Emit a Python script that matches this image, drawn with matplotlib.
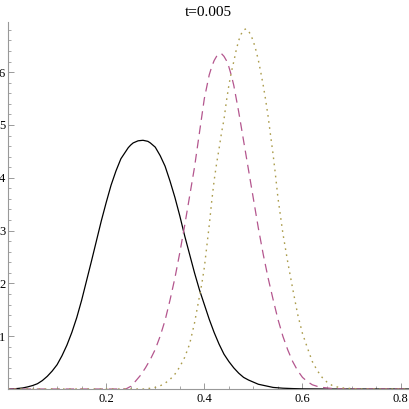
import numpy as np
import matplotlib.pyplot as plt
from matplotlib.ticker import MultipleLocator

# values
x_solid = [0.0, 0.01, 0.02, 0.03, 0.04, 0.05, 0.06, 0.07, 0.08, 0.09, 0.10,
           0.11, 0.12, 0.13, 0.14, 0.15, 0.16, 0.17, 0.18, 0.19, 0.20, 0.21,
           0.22, 0.23, 0.24, 0.245, 0.25, 0.255, 0.26, 0.265, 0.275, 0.285,
           0.29, 0.30, 0.31, 0.32, 0.33, 0.34, 0.35, 0.36, 0.37, 0.38, 0.39,
           0.40, 0.41, 0.42, 0.43, 0.44, 0.45, 0.46, 0.47, 0.48, 0.49, 0.50,
           0.51, 0.52, 0.54, 0.56, 0.58, 0.60, 0.65, 0.82]
y_solid = [0.0, 0.003, 0.01, 0.02, 0.04, 0.065, 0.10, 0.16, 0.24, 0.34, 0.46,
           0.63, 0.83, 1.07, 1.35, 1.68, 2.05, 2.42, 2.80, 3.18, 3.53, 3.86,
           4.13, 4.36, 4.50, 4.57, 4.62, 4.66, 4.68, 4.70, 4.71, 4.69,
           4.66, 4.58, 4.42, 4.22, 3.94, 3.63, 3.28, 2.90, 2.55, 2.20, 1.88,
           1.60, 1.32, 1.07, 0.85, 0.66, 0.52, 0.40, 0.30, 0.22, 0.17, 0.13,
           0.09, 0.07, 0.03, 0.015, 0.008, 0.003, 0.0, 0.0]

x_dash = [0.0, 0.24, 0.25, 0.26, 0.27, 0.28, 0.29, 0.30, 0.31, 0.32, 0.33,
          0.34, 0.35, 0.36, 0.37, 0.38, 0.39, 0.40, 0.41, 0.415, 0.42, 0.425,
          0.43, 0.435, 0.44, 0.445, 0.45, 0.455, 0.46, 0.465, 0.47, 0.48,
          0.49, 0.50, 0.51, 0.52, 0.53, 0.54, 0.55, 0.56, 0.57, 0.58, 0.59,
          0.60, 0.61, 0.62, 0.63, 0.64, 0.66, 0.68, 0.82]
y_dash = [0.0, 0.0, 0.05, 0.15, 0.26, 0.40, 0.56, 0.75, 1.00, 1.30, 1.68,
          2.10, 2.58, 3.10, 3.65, 4.20, 4.85, 5.50, 5.95, 6.10, 6.22, 6.30,
          6.35, 6.35, 6.30, 6.22, 6.10, 5.94, 5.75, 5.50, 5.25, 4.70,
          4.15, 3.60, 3.05, 2.55, 2.10, 1.70, 1.32, 1.00, 0.74, 0.52, 0.35,
          0.22, 0.14, 0.08, 0.05, 0.03, 0.01, 0.0, 0.0]

x_dot = [0.0, 0.28, 0.30, 0.31, 0.32, 0.33, 0.34, 0.35, 0.36, 0.37, 0.38,
         0.39, 0.395, 0.40, 0.405, 0.41, 0.415, 0.42, 0.425, 0.43, 0.435,
         0.44, 0.445, 0.45, 0.455, 0.46, 0.465, 0.47, 0.475, 0.48, 0.485,
         0.49, 0.495, 0.50, 0.505, 0.51, 0.515, 0.52, 0.525, 0.53, 0.535,
         0.54, 0.545, 0.55, 0.56, 0.57, 0.58, 0.59, 0.60, 0.61, 0.62, 0.63,
         0.64, 0.65, 0.66, 0.67, 0.68, 0.72, 0.82]
y_dot = [0.0, 0.0, 0.03, 0.06, 0.11, 0.18, 0.28, 0.42, 0.60, 0.85, 1.25,
         1.75, 2.00, 2.30, 2.70, 3.10, 3.55, 3.95, 4.27, 4.55, 4.85,
         5.10, 5.45, 5.75, 6.00, 6.20, 6.42, 6.60, 6.72, 6.80, 6.82,
         6.78, 6.70, 6.58, 6.42, 6.23, 6.00, 5.75, 5.47, 5.16, 4.80,
         4.45, 4.05, 3.62, 2.95, 2.40, 1.90, 1.42, 1.05, 0.78, 0.52, 0.35,
         0.22, 0.13, 0.07, 0.04, 0.02, 0.0, 0.0]

plt.rcParams['font.family'] = ['Liberation Serif', 'DejaVu Serif']

fig = plt.figure(figsize=(4.09, 4.09), dpi=100)
ax = fig.add_axes([8 / 409, 20 / 409, 401 / 409, 367 / 409])

ax.plot(x_solid, y_solid, color='black', lw=0.9)
ax.plot(x_dash, y_dash, color='#b4568e', lw=0.9, dashes=(7, 4.5))
ax.plot(x_dot, y_dot, color='#ab9c4c', lw=1.0, dashes=(1.2, 3.2))

ax.set_xlim(0, 0.817)
ax.set_ylim(0, 6.95)

for s in ['top', 'right']:
    ax.spines[s].set_visible(False)
for s in ['left', 'bottom']:
    ax.spines[s].set_color('#999999')
    ax.spines[s].set_linewidth(0.8)

ax.xaxis.set_minor_locator(MultipleLocator(0.05))
ax.yaxis.set_minor_locator(MultipleLocator(0.2))
ax.set_xticks([0.2, 0.4, 0.6, 0.8])
ax.set_xticklabels(['0.2', '0.4', '0.6', '0.8'])
ax.set_yticks([1, 2, 3, 4, 5, 6])
ax.set_yticklabels(['1', '2', '3', '4', '5', '6'])

ax.tick_params(which='major', direction='in', length=4, width=0.7,
               color='#999999', labelsize=9, pad=3)
ax.tick_params(which='minor', direction='in', length=2.2, width=0.6,
               color='#999999')
ax.tick_params(axis='y', pad=2)

ax.set_title('t=0.005', fontsize=11, pad=4)

plt.savefig('out.png', dpi=100)
